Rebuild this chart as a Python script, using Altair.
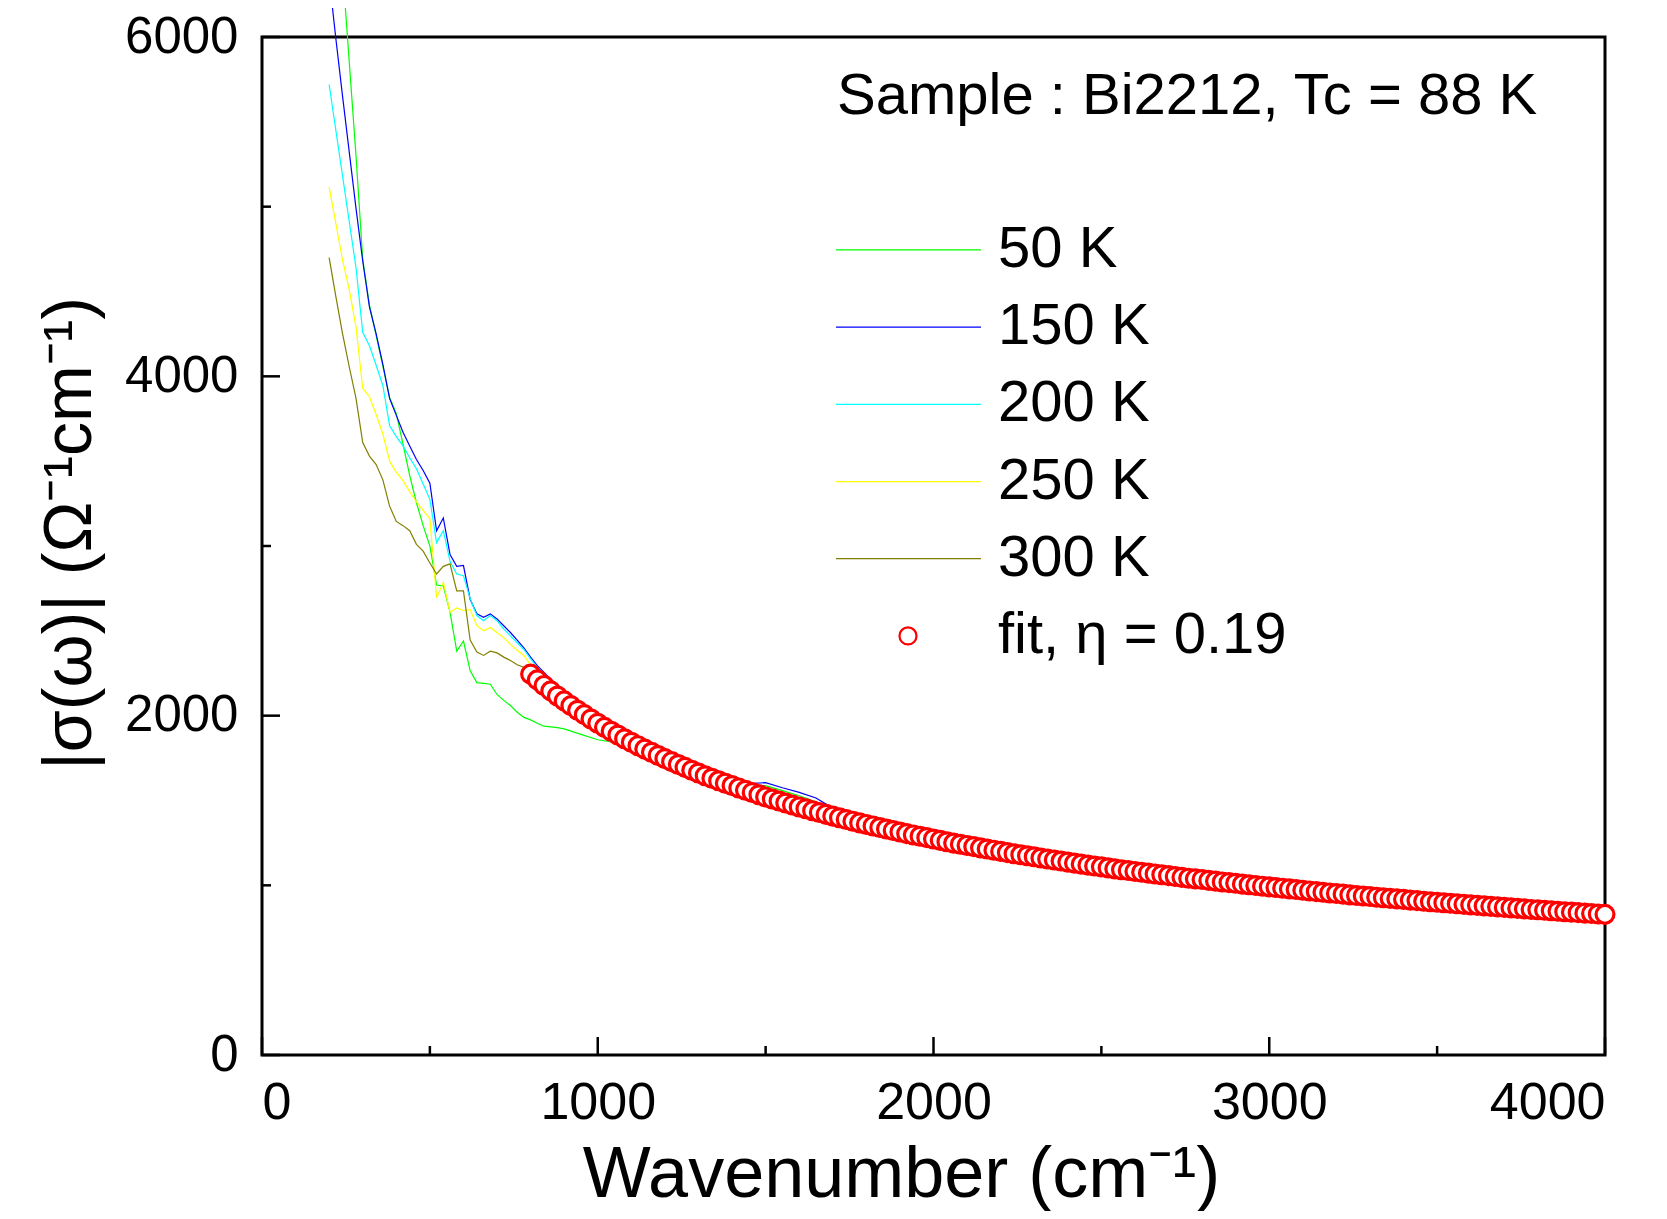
import altair as alt
import pandas as pd

# ---------------- data ----------------
# wavenumber grid of the measured spectra (cm^-1)
wavenumber = list(range(200, 901, 20)) + list(range(950, 1801, 50))

s50 = [7500, 6950, 6400, 5850, 5300, 4690, 4420, 4240, 4060, 3875, 3780, 3600,
       3415, 3255, 3120, 3000, 2770, 2765, 2610, 2380, 2440, 2265, 2195, 2190,
       2185, 2125, 2090, 2060, 2020, 1990, 1975, 1955, 1938, 1934, 1930, 1922,
       1890, 1858, 1843, 1836, 1786, 1740, 1698, 1658, 1622, 1592, 1585, 1588,
       1558, 1528, 1492, 1442, 1398, 1368]
s150 = [6350, 5990, 5650, 5320, 4990, 4680, 4410, 4250, 4070, 3870, 3770, 3670,
        3590, 3510, 3445, 3370, 3090, 3165, 2950, 2880, 2885, 2685, 2600, 2580,
        2600, 2570, 2530, 2490, 2445, 2400, 2345, 2295, 2255, 2215, 2180, 2150,
        2064, 2000, 1943, 1888, 1839, 1792, 1749, 1707, 1669, 1633, 1600, 1605,
        1575, 1548, 1515, 1455, 1415, 1385]
s200 = [5720, 5450, 5180, 4910, 4640, 4260, 4180, 4065, 3945, 3710, 3645, 3590,
        3520, 3455, 3365, 3275, 3020, 3090, 2910, 2835, 2825, 2690, 2590, 2560,
        2590, 2560, 2510, 2470, 2430, 2390, 2335, 2285, 2245, 2205, 2170, 2140,
        2060, 1995, 1938, 1883, 1834, 1787, 1744, 1702, 1664, 1628, 1595, 1575,
        1545, 1515, 1480, 1440, 1405, 1378]
s250 = [5115, 4900, 4685, 4510, 4290, 3930, 3880, 3775, 3660, 3500, 3435, 3385,
        3320, 3260, 3210, 3160, 2695, 2785, 2610, 2635, 2620, 2625, 2530, 2500,
        2520, 2490, 2460, 2420, 2385, 2355, 2300, 2262, 2225, 2190, 2155, 2120,
        2045, 1980, 1920, 1865, 1815, 1768, 1724, 1682, 1644, 1608, 1578, 1550,
        1520, 1490, 1460, 1428, 1400, 1375]
s300 = [4700, 4470, 4250, 4055, 3870, 3610, 3530, 3480, 3390, 3235, 3145, 3120,
        3090, 3010, 2970, 2900, 2835, 2880, 2895, 2735, 2735, 2445, 2375, 2355,
        2380, 2370, 2345, 2325, 2300, 2285, 2255, 2225, 2195, 2165, 2135, 2105,
        2035, 1970, 1910, 1855, 1805, 1758, 1714, 1672, 1634, 1598, 1566, 1535,
        1505, 1476, 1448, 1420, 1393, 1368]

# fit curve, one point every 20 cm^-1 from 800 to 4000
fit_y = [2245, 2211, 2178, 2146, 2116, 2087,
         2059, 2032, 2006, 1980, 1955,
         1931, 1908, 1886, 1864, 1843,
         1823, 1803, 1784, 1765, 1747,
         1729, 1712, 1695, 1678, 1662,
         1646, 1631, 1616, 1602, 1588,
         1574, 1560, 1547, 1534, 1521,
         1509, 1497, 1485, 1473, 1462,
         1451, 1440, 1429, 1418, 1408,
         1398, 1388, 1378, 1368, 1359,
         1350, 1341, 1332, 1323, 1314,
         1305, 1297, 1289, 1281, 1273,
         1265, 1257, 1249, 1242, 1235,
         1228, 1221, 1214, 1207, 1200,
         1193, 1186, 1180, 1174, 1168,
         1161, 1155, 1149, 1143, 1137,
         1131, 1125, 1119, 1114, 1109,
         1103, 1097, 1092, 1087, 1082,
         1077, 1072, 1067, 1062, 1057,
         1052, 1047, 1042, 1038, 1034,
         1029, 1025, 1020, 1016, 1012,
         1007, 1003, 999, 995, 991,
         987, 983, 979, 975, 971,
         967, 963, 959, 955, 952,
         948, 944, 940, 937, 934,
         930, 927, 923, 920, 917,
         913, 910, 906, 903, 900,
         897, 894, 891, 888, 885,
         882, 879, 876, 873, 870,
         867, 864, 861, 858, 856,
         853, 850, 847, 844, 842,
         839, 836, 834, 831, 829]
fit_x = [800 + 20 * i for i in range(len(fit_y))]

series_names = ["50 K", "150 K", "200 K", "250 K", "300 K"]
series_colors = ["#00ff00", "#0000ff", "#00ffff", "#ffff00", "#808000"]
series_values = [s50, s150, s200, s250, s300]
fit_label = "fit, η = 0.19"
sample_label = "Sample : Bi2212, Tc = 88 K"

x_major = [0, 1000, 2000, 3000, 4000]
x_minor = [500, 1500, 2500, 3500]
y_major = [0, 2000, 4000, 6000]
y_minor = [1000, 3000, 5000]

# ---------------- layout constants ----------------
W, H = 1343, 1018
FONT = "Liberation Sans"
MAJOR, MINOR = 18, 9

rows = []
for name, vals in zip(series_names, series_values):
    for xv, yv in zip(wavenumber, vals):
        rows.append({"series": name, "x": xv, "y": yv})
lines_df = pd.DataFrame(rows)
fit_df = pd.DataFrame({"x": fit_x, "y": fit_y})

x_scale = alt.Scale(domain=[0, 4000], nice=False, zero=False)
y_scale = alt.Scale(domain=[0, 6000], nice=False, zero=False)

x_axis = alt.Axis(values=x_major, format="d", grid=False, ticks=False, domain=False,
                  labelFont=FONT, labelFontSize=52, labelColor="black", labelPadding=22,
                  title="Wavenumber (cm⁻¹)", titleFont=FONT, titleFontSize=72,
                  titleFontWeight="normal", titleColor="black",
                  titleX=639, titleY=141, titleAlign="center", titleBaseline="alphabetic")
y_axis = alt.Axis(values=y_major, format="d", grid=False, ticks=False, domain=False,
                  labelFont=FONT, labelFontSize=51, labelColor="black", labelPadding=24,
                  title="|σ(ω)| (Ω⁻¹cm⁻¹)", titleFont=FONT, titleFontSize=68,
                  titleFontWeight="normal", titleColor="black", titleAngle=270,
                  titleX=-172, titleY=496, titleAlign="center", titleBaseline="alphabetic")

lines = alt.Chart(lines_df).mark_line(strokeWidth=1.2, clip=False).encode(
    x=alt.X("x:Q", scale=x_scale, axis=x_axis),
    y=alt.Y("y:Q", scale=y_scale, axis=y_axis),
    color=alt.Color("series:N", scale=alt.Scale(domain=series_names, range=series_colors), legend=None),
    detail="series:N",
)

fit = alt.Chart(fit_df).mark_point(
    shape="circle", size=320, filled=True, fill="white", stroke="#ff0000",
    strokeWidth=3.2, opacity=1, fillOpacity=1, strokeOpacity=1
).encode(x=alt.X("x:Q", scale=x_scale), y=alt.Y("y:Q", scale=y_scale))

# inward ticks
xmaj = alt.Chart(pd.DataFrame({"v": x_major})).mark_rule(color="black", strokeWidth=2.5).encode(
    x=alt.X("v:Q", scale=x_scale), y=alt.value(H), y2=alt.value(H - MAJOR))
xmin = alt.Chart(pd.DataFrame({"v": x_minor})).mark_rule(color="black", strokeWidth=2.5).encode(
    x=alt.X("v:Q", scale=x_scale), y=alt.value(H), y2=alt.value(H - MINOR))
ymaj = alt.Chart(pd.DataFrame({"v": y_major})).mark_rule(color="black", strokeWidth=2.5).encode(
    y=alt.Y("v:Q", scale=y_scale), x=alt.value(0), x2=alt.value(MAJOR))
ymin = alt.Chart(pd.DataFrame({"v": y_minor})).mark_rule(color="black", strokeWidth=2.5).encode(
    y=alt.Y("v:Q", scale=y_scale), x=alt.value(0), x2=alt.value(MINOR))

# legend (rows placed in data units)
LEG_TOP, LEG_STEP = 4745, 455
leg_df = pd.DataFrame({
    "label": series_names,
    "color": series_colors,
    "ly": [LEG_TOP - i * LEG_STEP for i in range(len(series_names))],
})
leg_lines = alt.Chart(leg_df).mark_rule(strokeWidth=1.2).encode(
    y=alt.Y("ly:Q", scale=y_scale), x=alt.value(574), x2=alt.value(719),
    color=alt.Color("color:N", scale=None))
leg_text_df = pd.DataFrame({
    "label": series_names + [fit_label],
    "ly": [LEG_TOP - i * LEG_STEP for i in range(len(series_names) + 1)],
})
leg_text = alt.Chart(leg_text_df).mark_text(
    font=FONT, fontSize=58, align="left", baseline="middle", color="black"
).encode(y=alt.Y("ly:Q", scale=y_scale), x=alt.value(736), text="label:N")
leg_fit = alt.Chart(pd.DataFrame({"ly": [LEG_TOP - len(series_names) * LEG_STEP]})).mark_point(
    shape="circle", size=290, filled=True, fill="white", stroke="#ff0000",
    strokeWidth=2.2, opacity=1
).encode(y=alt.Y("ly:Q", scale=y_scale), x=alt.value(646))

sample = alt.Chart(pd.DataFrame({"t": [sample_label]})).mark_text(
    font=FONT, fontSize=58, align="left", baseline="middle", color="black"
).encode(x=alt.value(575), y=alt.value(60), text="t:N")

chart = alt.layer(
    lines, fit, xmaj, xmin, ymaj, ymin, leg_lines, leg_text, leg_fit, sample
).properties(
    width=W, height=H,
    autosize=alt.AutoSizeParams(type="none"),
    padding={"left": 254, "top": 29, "right": 54, "bottom": 156},
    background="white",
).configure_view(stroke="black", strokeWidth=3)

chart.save("out.html", embed_options={"renderer": "svg", "actions": False})
